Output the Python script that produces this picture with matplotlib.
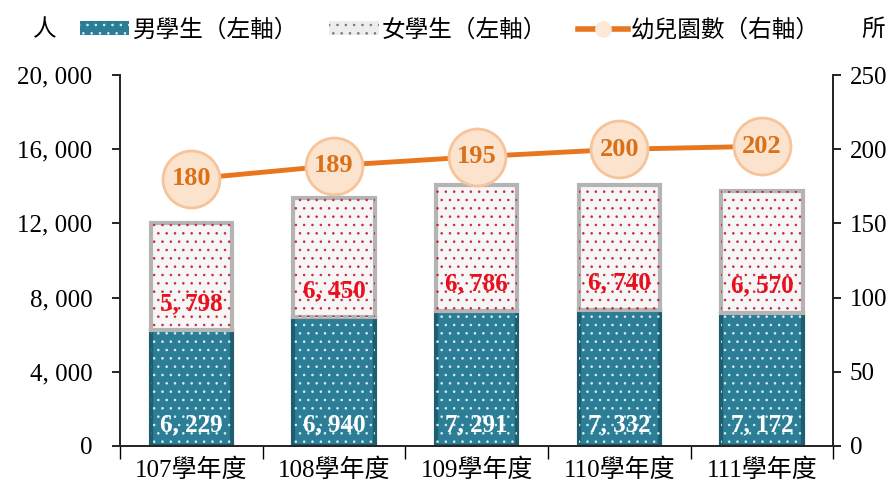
import numpy as np
import matplotlib.pyplot as plt
from matplotlib.patches import Patch
from matplotlib.lines import Line2D

plt.rcParams['font.family'] = ['Liberation Serif', 'Noto Sans CJK TC']
plt.rcParams['hatch.linewidth'] = 0.6

years = ["107學年度", "108學年度", "109學年度", "110學年度", "111學年度"]
male = [6229, 6940, 7291, 7332, 7172]
female = [5798, 6450, 6786, 6740, 6570]
schools = [180, 189, 195, 200, 202]

teal = "#2B7E95"
orange = "#E8761E"

x = np.arange(len(years))
w = 0.57

fig = plt.figure(figsize=(8.96, 4.91), dpi=100)
ax = fig.add_axes([0.134, 0.092, 0.796, 0.755])
ax2 = ax.twinx()

# male bars (bevel edge + dotted fill)
ax.bar(x, male, w, color=teal, edgecolor="#1E5E70", linewidth=3, zorder=2)
ax.bar(x, male, w, color="none", edgecolor="#DDEFF4", hatch="..", linewidth=0, zorder=3)
# female bars
ax.bar(x, female, w, bottom=male, color="#F6F6F6", edgecolor="#B4B4B4", linewidth=3, zorder=2)
ax.bar(x, female, w, bottom=male, color="none", edgecolor="#C8283A", hatch="..", linewidth=0, zorder=3)

for i in range(len(x)):
    ax.text(x[i], 1150, f"{male[i]:,}".replace(",", ", "), ha="center", va="center",
            color="white", fontsize=18, fontweight="bold", zorder=5)
    ax.text(x[i], male[i] + 1450, f"{female[i]:,}".replace(",", ", "), ha="center", va="center",
            color="#E8101E", fontsize=18, fontweight="bold", zorder=5)

ax.set_ylim(0, 20000)
ax.set_yticks(np.arange(0, 20001, 4000))
ax.set_yticklabels([f"{v:,}".replace(",", ", ") for v in range(0, 20001, 4000)])
ax.set_xlim(-0.5, len(x) - 0.5)
ax.set_xticks(x)
ax.set_xticklabels(years)
ax.set_xticks(np.arange(-0.5, len(x), 1), minor=True)
ax.tick_params(axis="x", which="major", length=0, labelsize=18, pad=9)
ax.tick_params(axis="x", which="minor", length=9, width=1, direction="out")
ax.tick_params(axis="y", labelsize=18, length=6, width=1.2, direction="out", pad=14)

# line on right axis
ax2.plot(x, schools, color=orange, linewidth=3.5, zorder=4)
ax2.plot(x, schools, "o", markersize=41, markerfacecolor="#FCE3CD",
         markeredgecolor="#F6C49A", markeredgewidth=2, zorder=5)
for i in range(len(x)):
    ax2.text(x[i], schools[i], str(schools[i]), ha="center", va="center",
             color="#D9701A", fontsize=19, fontweight="bold", zorder=6)
ax2.set_ylim(0, 250)
ax2.set_yticks(np.arange(0, 251, 50))
ax2.tick_params(axis="y", labelsize=18, length=6, width=1.2, direction="out", pad=6)

for a in (ax, ax2):
    a.spines["top"].set_visible(False)
    for s in ("left", "right", "bottom"):
        a.spines[s].set_linewidth(1.2)
        a.spines[s].set_color("#222222")

handles = [
    Patch(facecolor=teal, edgecolor="#DDEFF4", hatch="..", linewidth=0),
    Patch(facecolor="#EDEDED", edgecolor="#777777", hatch="..", linewidth=0),
    Line2D([0], [0], color=orange, linewidth=4, marker="o", markersize=11,
           markerfacecolor="#FCE9D8", markeredgecolor="#FCE9D8"),
]
labels = ["男學生（左軸）", "女學生（左軸）", "幼兒園數（右軸）"]
fig.legend(handles, labels, loc="center left", bbox_to_anchor=(0.089, 0.939), ncol=3,
           frameon=False, fontsize=17, handlelength=2.1, handleheight=0.5,
           columnspacing=1.3, handletextpad=0.15, borderpad=0, borderaxespad=0)
fig.text(0.05, 0.939, "人", ha="center", va="center", fontsize=17)
fig.text(0.975, 0.939, "所", ha="center", va="center", fontsize=17)

fig.savefig("out.png", dpi=100)
